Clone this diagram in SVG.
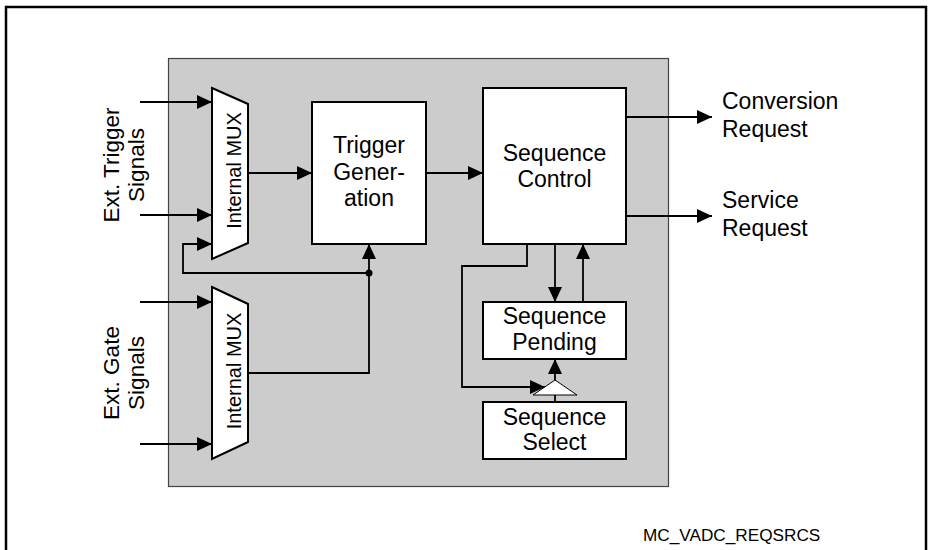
<svg xmlns="http://www.w3.org/2000/svg" width="928" height="550" viewBox="0 0 928 550">
<style>
  text { font-family: "Liberation Sans", Arial, sans-serif; fill: #000; }
  .lbl { font-size: 23px; text-anchor: middle; }
  .side { font-size: 22.5px; text-anchor: middle; }
  .out { font-size: 23px; }
  .mux { font-size: 20px; text-anchor: middle; }
  .box { fill: #fff; stroke: #000; stroke-width: 2; }
  .wire { fill: none; stroke: #000; stroke-width: 1.8; }
</style>
<defs>
  <marker id="arr" markerUnits="userSpaceOnUse" markerWidth="15" markerHeight="14" refX="15" refY="7" orient="auto">
    <path d="M0,0 L15,7 L0,14 z" fill="#000"/>
  </marker>
</defs>
<rect x="0" y="0" width="928" height="550" fill="#fff"/>
<rect id="frame" x="6" y="7" width="920" height="570" fill="none" stroke="#000" stroke-width="2.5"/>
<rect id="module" x="168.5" y="58.5" width="500" height="428" fill="#cccccc" stroke="#444" stroke-width="1.2"/>

<g id="connectors">
  <path class="wire" d="M140,102 H212" marker-end="url(#arr)"/>
  <path class="wire" d="M140,215 H212" marker-end="url(#arr)"/>
  <path class="wire" d="M369,273 H183 V244 H212" marker-end="url(#arr)"/>
  <path class="wire" d="M140,302 H212" marker-end="url(#arr)"/>
  <path class="wire" d="M140,444 H212" marker-end="url(#arr)"/>
  <path class="wire" d="M248,173 H312" marker-end="url(#arr)"/>
  <path class="wire" d="M248,373 H369 V244" marker-end="url(#arr)"/>
  <circle cx="369" cy="273" r="3.5" fill="#000"/>
  <path class="wire" d="M426,173 H483" marker-end="url(#arr)"/>
  <path class="wire" d="M626,117 H712" marker-end="url(#arr)"/>
  <path class="wire" d="M626,216 H712" marker-end="url(#arr)"/>
  <path class="wire" d="M527,244 V266 H462 V387 H545" marker-end="url(#arr)"/>
  <path class="wire" d="M555,244 V302" marker-end="url(#arr)"/>
  <path class="wire" d="M583,302 V244" marker-end="url(#arr)"/>
  <path class="wire" d="M555,402 V395"/>
  <path class="wire" d="M555,380 V359" marker-end="url(#arr)"/>
</g>

<g id="mux-trigger">
  <polygon class="box" points="212,88 248,104 248,243 212,259"/>
  <text class="mux" transform="translate(240.5,170.5) rotate(-90)">Internal MUX</text>
</g>
<g id="mux-gate">
  <polygon class="box" points="212,287 248,304 248,442 212,459"/>
  <text class="mux" transform="translate(240.5,371) rotate(-90)">Internal MUX</text>
</g>
<g id="trigger-generation">
  <rect class="box" x="312" y="102" width="114" height="142"/>
  <text class="lbl" x="369" y="153">Trigger</text>
  <text class="lbl" x="369" y="180">Gener-</text>
  <text class="lbl" x="369" y="206">ation</text>
</g>
<g id="sequence-control">
  <rect class="box" x="483" y="88" width="143" height="156"/>
  <text class="lbl" x="554.5" y="161">Sequence</text>
  <text class="lbl" x="554.5" y="187">Control</text>
</g>
<g id="sequence-pending">
  <rect class="box" x="483" y="302" width="143" height="57"/>
  <text class="lbl" x="554.5" y="323.5">Sequence</text>
  <text class="lbl" x="554.5" y="350">Pending</text>
</g>
<g id="selector">
  <polygon points="533,395 555,380 577,395" fill="#fff" stroke="#000" stroke-width="1"/>
</g>
<g id="sequence-select">
  <rect class="box" x="483" y="402" width="143" height="57"/>
  <text class="lbl" x="554.5" y="425">Sequence</text>
  <text class="lbl" x="554.5" y="450">Select</text>
</g>

<g id="labels">
  <text class="side" transform="translate(119,165) rotate(-90)">Ext. Trigger</text>
  <text class="side" transform="translate(144,165) rotate(-90)">Signals</text>
  <text class="side" transform="translate(119,373) rotate(-90)">Ext. Gate</text>
  <text class="side" transform="translate(144,373) rotate(-90)">Signals</text>
  <text class="out" x="722" y="109">Conversion</text>
  <text class="out" x="722" y="136.5">Request</text>
  <text class="out" x="722" y="208">Service</text>
  <text class="out" x="722" y="235.5">Request</text>
  <text x="643" y="541" font-size="17.2">MC_VADC_REQSRCS</text>
</g>
</svg>
